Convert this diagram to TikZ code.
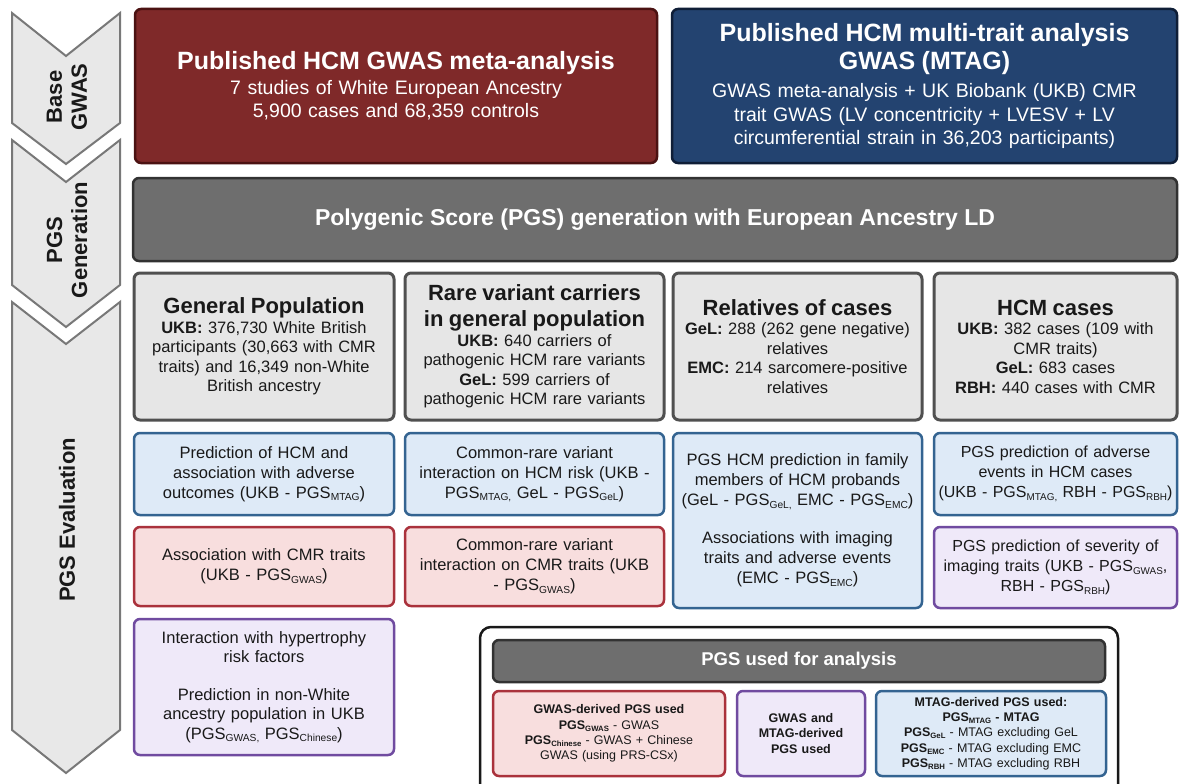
\documentclass[tikz,border=0pt]{standalone}
\usepackage{fontspec}
\setmainfont{Liberation Sans}
\definecolor{redF}{RGB}{127,41,41}
\definecolor{redD}{RGB}{75,18,18}
\definecolor{blueF}{RGB}{35,67,112}
\definecolor{blueD}{RGB}{15,30,55}
\definecolor{barF}{RGB}{110,110,110}
\definecolor{barD}{RGB}{50,50,50}
\definecolor{greyF}{RGB}{230,230,230}
\definecolor{greyD}{RGB}{80,80,80}
\definecolor{lbF}{RGB}{222,234,247}
\definecolor{lbD}{RGB}{52,100,145}
\definecolor{lrF}{RGB}{248,222,222}
\definecolor{lrD}{RGB}{170,50,60}
\definecolor{lpF}{RGB}{239,233,249}
\definecolor{lpD}{RGB}{112,75,160}
\definecolor{chF}{RGB}{232,232,232}
\definecolor{chD}{RGB}{120,120,120}
\definecolor{txt}{RGB}{25,25,25}
\newcommand{\sbs}[1]{\raisebox{-0.3ex}{\scalebox{0.62}{#1}}}
\tikzset{
  x=1pt, y=-1pt,
  bx/.style={rounded corners=6pt, align=center, inner sep=0pt, line width=2.5pt},
  darkbox/.style={bx, text=white, font=\fontsize{19.5}{23}\selectfont},
  greybox/.style={bx, fill=greyF, draw=greyD, line width=3pt, text=txt, font=\fontsize{16.5}{19.5}\selectfont},
  lblue/.style={bx, fill=lbF, draw=lbD, text=txt, font=\fontsize{16.5}{20}\selectfont},
  lred/.style={bx, fill=lrF, draw=lrD, text=txt, font=\fontsize{16.5}{20}\selectfont},
  lpurp/.style={bx, fill=lpF, draw=lpD, text=txt, font=\fontsize{16.5}{20}\selectfont},
  legtxt/.style={font=\fontsize{12.5}{15.3}\selectfont},
  chev/.style={fill=chF, draw=chD, line width=2pt, line join=miter},
  chevlbl/.style={rotate=90, align=center, text=txt, font=\fontsize{22}{25}\selectfont\bfseries}
}
\begin{document}
\begin{tikzpicture}
\clip (0,0) rectangle (1184,784);
\useasboundingbox (0,0) rectangle (1184,784);
\fill[white] (0,0) rectangle (1184,784);

% chevrons
\draw[chev] (12,13) -- (66,56) -- (120,13) -- (120,123) -- (66,164) -- (12,123) -- cycle;
\draw[chev] (12,140) -- (66,182) -- (120,140) -- (120,285) -- (66,327) -- (12,285) -- cycle;
\draw[chev] (12,302) -- (66,344) -- (120,302) -- (120,730) -- (66,773) -- (12,730) -- cycle;
\node[chevlbl] (c1) at (67,97) {Base\\GWAS};
\node[chevlbl] (c2) at (67,240) {PGS\\Generation};
\node[chevlbl] (c3) at (67,520) {PGS Evaluation};

% top boxes
\node[darkbox, fill=redF, draw=redD, minimum width=522, minimum height=154, text width=510] (red) at (396,86)
 {{\fontsize{25}{29}\selectfont\bfseries Published HCM GWAS meta-analysis\par}\vspace{2pt}
  7 studies of White European Ancestry\\5,900 cases and 68,359 controls};
\node[darkbox, fill=blueF, draw=blueD, minimum width=505, minimum height=154, text width=495, font=\fontsize{19.5}{23.5}\selectfont] (blue) at (924.5,86)
 {{\fontsize{25}{28}\selectfont\bfseries Published HCM multi-trait analysis\\GWAS (MTAG)\par}\vspace{5pt}
  GWAS meta-analysis + UK Biobank (UKB) CMR\\trait GWAS (LV concentricity + LVESV + LV\\circumferential strain in 36,203 participants)};

% bar
\node[bx, fill=barF, draw=barD, text=white, minimum width=1044, minimum height=83, font=\fontsize{23}{27}\selectfont\bfseries] (bar) at (655,219.5)
 {Polygenic Score (PGS) generation with European Ancestry LD};

% grey row
\node[greybox, minimum width=260, minimum height=147, text width=250] (g1) at (264,346.5)
 {{\fontsize{22}{26}\selectfont\bfseries General Population\par}
  \textbf{UKB:} 376,730 White British\\participants (30,663 with CMR\\traits) and 16,349 non-White\\British ancestry};
\node[greybox, minimum width=259, minimum height=147, text width=250] (g2) at (534.5,346.5)
 {{\fontsize{22}{26}\selectfont\bfseries Rare variant carriers\\in general population\par}
  \textbf{UKB:} 640 carriers of\\pathogenic HCM rare variants\\\textbf{GeL:} 599 carriers of\\pathogenic HCM rare variants};
\node[greybox, minimum width=249, minimum height=147, text width=240] (g3) at (797.5,346.5)
 {{\fontsize{22}{26}\selectfont\bfseries Relatives of cases\par}
  \textbf{GeL:} 288 (262 gene negative)\\relatives\\\textbf{EMC:} 214 sarcomere-positive\\relatives};
\node[greybox, minimum width=243, minimum height=147, text width=234] (g4) at (1055.5,346.5)
 {{\fontsize{22}{26}\selectfont\bfseries HCM cases\par}
  \textbf{UKB:} 382 cases (109 with\\CMR traits)\\\textbf{GeL:} 683 cases\\\textbf{RBH:} 440 cases with CMR};

% blue row
\node[lblue, minimum width=260, minimum height=82, text width=250] (b1) at (264,474)
 {Prediction of HCM and\\association with adverse\\outcomes (UKB - PGS\sbs{MTAG})};
\node[lblue, minimum width=259, minimum height=82, text width=250] (b2) at (534.5,474)
 {Common-rare variant\\interaction on HCM risk (UKB -\\PGS\sbs{MTAG,} GeL - PGS\sbs{GeL})};
\node[lblue, minimum width=249, minimum height=175, text width=243] (b3) at (797.5,520.5)
 {PGS HCM prediction in family\\members of HCM probands\\(GeL - PGS\sbs{GeL,} EMC - PGS\sbs{EMC})\\[18pt]
  Associations with imaging\\traits and adverse events\\(EMC - PGS\sbs{EMC})};
\node[lblue, minimum width=243, minimum height=82, text width=243, font=\fontsize{16}{20}\selectfont] (b4) at (1055.5,474)
 {PGS prediction of adverse\\events in HCM cases\\(UKB - PGS\sbs{MTAG,} RBH - PGS\sbs{RBH})};

% red row
\node[lred, minimum width=260, minimum height=79, text width=250] (r1) at (264,566.5)
 {Association with CMR traits\\(UKB - PGS\sbs{GWAS})};
\node[lred, minimum width=259, minimum height=79, text width=250] (r2) at (534.5,566.5)
 {Common-rare variant\\interaction on CMR traits (UKB\\- PGS\sbs{GWAS})};
\node[lpurp, minimum width=243, minimum height=81, text width=243, font=\fontsize{16}{20}\selectfont] (p4) at (1055.5,567.5)
 {PGS prediction of severity of\\imaging traits (UKB - PGS\sbs{GWAS},\\RBH - PGS\sbs{RBH})};

% purple col1
\node[lpurp, minimum width=260, minimum height=136, text width=250, font=\fontsize{16.5}{19.5}\selectfont] (p1) at (264,687)
 {Interaction with hypertrophy\\risk factors\\[18pt]Prediction in non-White\\ancestry population in UKB\\(PGS\sbs{GWAS,} PGS\sbs{Chinese})};

% legend
\node[bx, draw=black!90, fill=white, rounded corners=11pt, minimum width=638, minimum height=180] (leg) at (799,717) {};
\node[bx, fill=barF, draw=barD, text=white, minimum width=612, minimum height=42, font=\fontsize{18.5}{22}\selectfont\bfseries] (legh) at (799,661)
 {PGS used for analysis};
\node[lred, legtxt, minimum width=232, minimum height=85, text width=226] (lr) at (609,733.5)
 {\textbf{GWAS-derived PGS used}\\\textbf{PGS\sbs{GWAS}} - GWAS\\\textbf{PGS\sbs{Chinese}} - GWAS + Chinese\\GWAS (using PRS-CSx)};
\node[lpurp, legtxt, minimum width=128, minimum height=85, text width=124] (lp) at (801,733.5)
 {\textbf{GWAS and\\MTAG-derived\\PGS used}};
\node[lblue, legtxt, minimum width=230, minimum height=85, text width=226] (lb) at (991,733.5)
 {\textbf{MTAG-derived PGS used:}\\\textbf{PGS\sbs{MTAG} - MTAG}\\\textbf{PGS\sbs{GeL}} - MTAG excluding GeL\\\textbf{PGS\sbs{EMC}} - MTAG excluding EMC\\\textbf{PGS\sbs{RBH}} - MTAG excluding RBH};
\end{tikzpicture}
\end{document}
